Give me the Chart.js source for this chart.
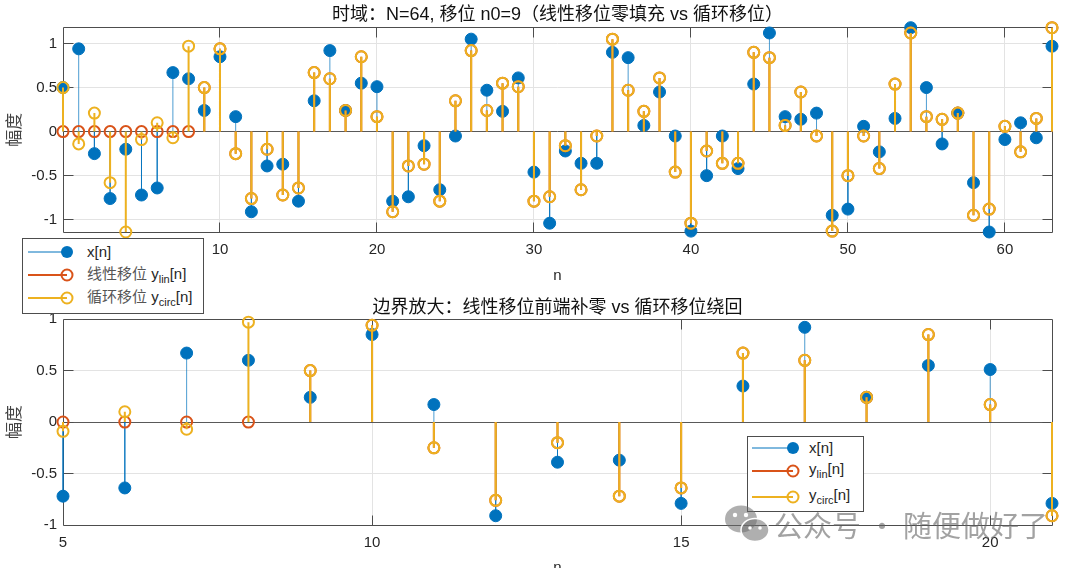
<!DOCTYPE html>
<html lang="zh">
<head>
<meta charset="utf-8">
<title>线性移位 vs 循环移位</title>
<style>
  html, body { margin: 0; padding: 0; background: #fff; }
  body { width: 1080px; height: 568px; overflow: hidden; position: relative; }
  canvas { position: absolute; left: 0; }
  .lg { position: absolute; background: #fff; border: 1px solid #4d4d4d; box-sizing: border-box; }
  .lg svg { position: absolute; left: 0; }
  .lg span.t { position: absolute; font: 15px 'Liberation Sans', 'Noto Sans CJK SC', sans-serif; color: #262626; line-height: 20px; white-space: nowrap; }
  .lg .cn { color: #555; }
  .lg .sb { font-size: 11px; position: relative; top: 4px; }
  .wm { position: absolute; font: 29px 'Noto Sans CJK SC', sans-serif; color: rgba(100,100,100,0.6); white-space: nowrap; line-height: 36px; }
</style>
</head>
<body>
<canvas id="top" width="1080" height="290" style="top:0"></canvas>
<canvas id="bot" width="1080" height="300" style="top:284px"></canvas>

<div class="lg" style="left:22px; top:238px; width:182px; height:76px">
  <svg width="60" height="16" style="top:5px"><line x1="5" y1="8" x2="44" y2="8" stroke="#0072BD" stroke-width="1"/><circle cx="44" cy="8" r="6" fill="#0072BD"/></svg>
  <span class="t" style="left:64px; top:3px">x[n]</span>
  <svg width="60" height="16" style="top:28px"><line x1="5" y1="8" x2="44" y2="8" stroke="#D95319" stroke-width="2"/><circle cx="44" cy="8" r="5.5" fill="none" stroke="#D95319" stroke-width="2"/></svg>
  <span class="t" style="left:64px; top:25px"><span class="cn">线性移位</span> y<span class="sb">lin</span>[n]</span>
  <svg width="60" height="16" style="top:51px"><line x1="5" y1="8" x2="44" y2="8" stroke="#EDB120" stroke-width="2"/><circle cx="44" cy="8" r="5.5" fill="none" stroke="#EDB120" stroke-width="2"/></svg>
  <span class="t" style="left:64px; top:48px"><span class="cn">循环移位</span> y<span class="sb">circ</span>[n]</span>
</div>

<div class="lg" style="left:747px; top:436px; width:117px; height:76px">
  <svg width="60" height="16" style="top:3px"><line x1="4" y1="8" x2="45" y2="8" stroke="#0072BD" stroke-width="1"/><circle cx="45" cy="8" r="6" fill="#0072BD"/></svg>
  <span class="t" style="left:61px; top:1px">x[n]</span>
  <svg width="60" height="16" style="top:26px"><line x1="4" y1="8" x2="45" y2="8" stroke="#D95319" stroke-width="2"/><circle cx="45" cy="8" r="5.5" fill="none" stroke="#D95319" stroke-width="2"/></svg>
  <span class="t" style="left:61px; top:22px">y<span class="sb">lin</span>[n]</span>
  <svg width="60" height="16" style="top:52px"><line x1="4" y1="8" x2="45" y2="8" stroke="#EDB120" stroke-width="2"/><circle cx="45" cy="8" r="5.5" fill="none" stroke="#EDB120" stroke-width="2"/></svg>
  <span class="t" style="left:61px; top:48px">y<span class="sb">circ</span>[n]</span>
</div>

<svg style="position:absolute; left:724px; top:503px" width="48" height="42">
  <ellipse cx="17" cy="16" rx="16" ry="13.5" fill="rgba(110,110,110,0.55)"/>
  <ellipse cx="31" cy="27" rx="14" ry="11.5" fill="rgba(110,110,110,0.55)" stroke="#fff" stroke-width="1.5"/>
  <circle cx="11" cy="12" r="2.2" fill="#fff"/><circle cx="22" cy="12" r="2.2" fill="#fff"/>
  <circle cx="26" cy="25" r="1.8" fill="#fff"/><circle cx="36" cy="25" r="1.8" fill="#fff"/>
</svg>
<div class="wm" style="left:774px; top:506px">公众号 · 随便做好了</div>

<script src="https://cdn.jsdelivr.net/npm/chart.js@4.4.1/dist/chart.umd.min.js"></script>
<script>
// sample index n = 0..63, N = 64, n0 = 9
const n = [...Array(64).keys()]

const x = [
  0.50, 0.94, -0.25, -0.76, -0.20, -0.72, -0.64, 0.67, 0.60, 0.24,
  0.85, 0.17, -0.91, -0.39, -0.37, -0.79, 0.35, 0.92, 0.24, 0.55,
  0.51, -0.79, -0.74, -0.16, -0.66, -0.05, 1.05, 0.47, 0.23, 0.61,
  -0.46, -1.04, -0.22, -0.36, -0.36, 0.90, 0.84, 0.07, 0.45, -0.05,
  -1.13, -0.50, -0.05, -0.42, 0.54, 1.12, 0.17, 0.14, 0.21, -0.95,
  -0.88, 0.06, -0.23, 0.15, 1.18, 0.50, -0.14, 0.21, -0.58, -1.14,
  -0.09, 0.10, -0.07, 0.97
]

const yLin = [
  0, 0, 0, 0, 0, 0, 0, 0, 0,
  0.50, 0.94, -0.25, -0.76, -0.20, -0.72, -0.64, 0.67, 0.60, 0.24,
  0.85, 0.17, -0.91, -0.39, -0.37, -0.79, 0.35, 0.92, 0.24, 0.55,
  0.51, -0.79, -0.74, -0.16, -0.66, -0.05, 1.05, 0.47, 0.23, 0.61,
  -0.46, -1.04, -0.22, -0.36, -0.36, 0.90, 0.84, 0.07, 0.45, -0.05,
  -1.13, -0.50, -0.05, -0.42, 0.54, 1.12, 0.17, 0.14, 0.21, -0.95,
  -0.88, 0.06, -0.23, 0.15, 1.18
]

const yCirc = [
  0.50, -0.14, 0.21, -0.58, -1.14, -0.09, 0.10, -0.07, 0.97,
  0.50, 0.94, -0.25, -0.76, -0.20, -0.72, -0.64, 0.67, 0.60, 0.24,
  0.85, 0.17, -0.91, -0.39, -0.37, -0.79, 0.35, 0.92, 0.24, 0.55,
  0.51, -0.79, -0.74, -0.16, -0.66, -0.05, 1.05, 0.47, 0.23, 0.61,
  -0.46, -1.04, -0.22, -0.36, -0.36, 0.90, 0.84, 0.07, 0.45, -0.05,
  -1.13, -0.50, -0.05, -0.42, 0.54, 1.12, 0.17, 0.14, 0.21, -0.95,
  -0.88, 0.06, -0.23, 0.15, 1.18
]

const xTicksTop = { min: 0, max: 63, step: 10 }
const xTicksZoom = { min: 5, max: 21, step: 5 }

const FONT = "'Liberation Sans', 'Noto Sans CJK SC', sans-serif"
const TXT = '#262626'

// stem = line from 0 up to value, marker on the tip, gap between samples
function stem(vals, lo, hi) {
  let pts = []
  for (let i = lo; i <= hi; i++) {
    pts.push({x: n[i], y: 0}, {x: n[i], y: vals[i], tip: true}, {x: n[i], y: null})
  }
  return pts
}

function stemSet(vals, lo, hi, kind) {
  let s = {
    data: stem(vals, lo, hi),
    showLine: true,
    spanGaps: false,
    clip: false,
    pointStyle: 'circle',
    pointHitRadius: 0
  }
  if (kind == 'x') {
    Object.assign(s, {
      borderColor: 'rgba(0,114,189,0.7)', borderWidth: 1,
      pointBackgroundColor: '#0072BD', pointBorderColor: '#0072BD', pointBorderWidth: 1,
      pointRadius: c => (c.raw && c.raw.tip) ? 6 : 0, order: 3
    })
  } else {
    const col = kind == 'lin' ? '#D95319' : '#EDB120'
    Object.assign(s, {
      borderColor: col, borderWidth: 2,
      pointBackgroundColor: 'rgba(0,0,0,0)', pointBorderColor: col, pointBorderWidth: 2,
      pointRadius: c => (c.raw && c.raw.tip) ? 5.5 : 0, order: kind == 'lin' ? 2 : 1
    })
  }
  return s
}

function al(p) { return Math.round(p - 0.5) + 0.5 }

// axes box + inward tick marks like the original figure
const frame = {
  id: 'frame',
  beforeDatasetsDraw(chart) {
    const {ctx, chartArea: a} = chart
    const xs = chart.scales.x, ys = chart.scales.y
    const L = al(a.left), R = al(a.right), T = al(a.top), B = al(a.bottom)
    ctx.save()
    ctx.strokeStyle = '#4d4d4d'
    ctx.lineWidth = 1
    ctx.beginPath()
    ctx.rect(L, T, R - L, B - T)
    xs.ticks.forEach(t => {
      const p = al(xs.getPixelForValue(t.value))
      if (p <= L + 1 || p >= R - 1) return
      ctx.moveTo(p, T); ctx.lineTo(p, T + 10)
      ctx.moveTo(p, B); ctx.lineTo(p, B - 10)
    })
    ys.ticks.forEach(t => {
      const p = al(ys.getPixelForValue(t.value))
      if (p <= T + 1 || p >= B - 1) return
      ctx.moveTo(L, p); ctx.lineTo(L + 10, p)
      ctx.moveTo(R, p); ctx.lineTo(R - 10, p)
    })
    ctx.stroke()
    ctx.restore()
  }
}

function makeChart(id, cfg) {
  const ctx = document.getElementById(id).getContext('2d')
  return new Chart(ctx, {
    type: 'scatter',
    data: { datasets: [
      stemSet(x, cfg.lo, cfg.hi, 'x'),
      stemSet(yLin, cfg.lo, cfg.hi, 'lin'),
      stemSet(yCirc, cfg.lo, cfg.hi, 'circ')
    ]},
    options: {
      responsive: false,
      animation: false,
      devicePixelRatio: 1,
      events: [],
      layout: { padding: { left: 0, right: 28, top: 0, bottom: 0 } },
      plugins: {
        legend: { display: false },
        tooltip: { enabled: false },
        title: {
          display: true, text: cfg.title, fullSize: false, color: '#111',
          font: { family: FONT, size: 18, weight: 'normal' },
          padding: cfg.titlePad
        }
      },
      scales: {
        x: {
          type: 'linear', min: cfg.xt.min, max: cfg.xt.max,
          afterFit: s => { s.height = cfg.xh },
          ticks: { stepSize: cfg.xt.step, includeBounds: false, padding: 9, color: TXT, font: { family: FONT, size: 15 }, maxRotation: 0 },
          grid: { color: '#e3e3e3', drawTicks: false },
          border: { display: false },
          title: { display: true, text: 'n', color: TXT, font: { family: FONT, size: 15 }, padding: { top: 0, bottom: cfg.nPad } }
        },
        y: {
          min: cfg.ymin, max: cfg.ymax,
          afterFit: s => { s.width = 63 },
          ticks: {
            stepSize: 0.5, includeBounds: false, padding: 6, color: TXT, font: { family: FONT, size: 15 },
            callback: v => String(Math.round(v * 100) / 100)
          },
          grid: { color: c => c.tick.value === 0 ? '#595959' : '#e3e3e3', drawTicks: false },
          border: { display: false },
          title: { display: true, text: '幅度', color: '#444', font: { family: FONT, size: 17 }, padding: { top: 5, bottom: 0 } }
        }
      }
    },
    plugins: [frame]
  })
}

makeChart('top', {
  title: '时域：N=64, 移位 n0=9（线性移位零填充 vs 循环移位）',
  titlePad: { top: 4.2, bottom: 1.9 },
  lo: 0, hi: 63, xt: xTicksTop, xh: 58, nPad: 5,
  ymin: Math.min(...x, ...yCirc), ymax: Math.max(...x, ...yCirc)
})

makeChart('bot', {
  title: '边界放大：线性移位前端补零 vs 循环移位绕回',
  titlePad: { top: 13.5, bottom: 0 },
  lo: 5, hi: 21, xt: xTicksZoom, xh: 59, nPad: 7.5,
  ymin: -1, ymax: 1
})
</script>
</body>
</html>
